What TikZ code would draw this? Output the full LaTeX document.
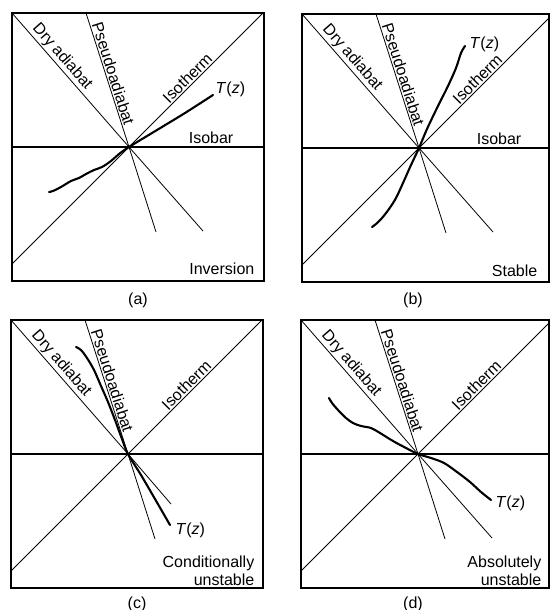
\documentclass[tikz,border=0pt]{standalone}
\usepackage{fontspec}
\setmainfont{Liberation Sans}
\newcommand\meteopanel[3]{%
  % #1 = box width, (#2,#3) = lower end of the dry adiabat
  \coordinate (O) at (117,134);
  \coordinate (dtop) at (0,0);
  \coordinate (ptop) at (74,0);
  \coordinate (dend) at (#2,#3);
  \coordinate (pend) at (144,219);
  \coordinate (itop) at (251,0);
  \coordinate (ibot) at (0,251);
  \begin{scope}
    \clip (0,0) rectangle (#1,268);
    \draw[thinline] (ibot) -- ({#1},{251-#1});
  \end{scope}
  \draw[thinline] (dtop) -- (O) -- (dend);
  \draw[thinline] (ptop) -- (O) -- (pend);
  \draw[isobarline] (0,134) -- ({#1},134);
  \draw[boxline] (0,0) rectangle ({#1},268);
  \path (dtop) -- (O) node[pos=0.37, sloped, above, lbl] (ldry) {Dry adiabat};
  \path (ptop) -- (O) node[pos=0.47, sloped, above, lbl] (lpse) {Pseudoadiabat};
  \path (O) -- (itop) node[pos=0.475, sloped, above, lbl] (liso) {Isotherm};
}
\begin{document}
\begin{tikzpicture}[x=1pt,y=-1pt,
  boxline/.style={line width=1.1pt},
  thinline/.style={line width=0.8pt},
  isobarline/.style={line width=1.9pt},
  profile/.style={line width=2.1pt, line cap=round, line join=round},
  lbl/.style={font=\fontsize{16}{17.5}\selectfont, inner sep=1.5pt},
  tz/.style={lbl, anchor=west, inner sep=0.5pt}]
\fill[white] (0,0) rectangle (550,610);
\useasboundingbox (0,0) rectangle (550,610);

% ---------- (a) ----------
\begin{scope}[shift={(12,13)}]
  \meteopanel{252}{191}{218}
  \node[lbl, anchor=base east] (isoa) at (223,130.5) {Isobar};
  \node[lbl, anchor=base east] (inva) at (244,261) {Inversion};
  \begin{scope}[shift={(117,134)}]
    \draw[profile] plot[smooth, tension=0.55] coordinates {(-80,45) (-76,44) (-68,40) (-58,34) (-50,31) (-43,27) (-35,23) (-27,20) (-18,14) (-10,7) (0,0) (28,-17) (56,-34) (84,-52)};
    \node[tz] (tza) at (86,-58) {\textit{T}(\textit{z})};
  \end{scope}
\end{scope}
\node[lbl] (capa) at (138,300) {(a)};

% ---------- (b) ----------
\begin{scope}[shift={(302,14)}]
  \meteopanel{247}{191}{218}
  \node[lbl, anchor=base east] (isob) at (221,130.5) {Isobar};
  \node[lbl, anchor=base east] (stab) at (237,262) {Stable};
  \begin{scope}[shift={(117,134)}]
    \draw[profile] plot[smooth, tension=0.55] coordinates {(-47,79) (-43,76) (-37,70) (-30,61) (-23,50) (-16,35) (-8,17) (0,0) (8,-19) (19,-42) (29,-62) (37,-80) (42,-95) (46,-102)};
    \node[tz] (tzb) at (50,-104) {\textit{T}(\textit{z})};
  \end{scope}
\end{scope}
\node[lbl] (capb) at (413,300) {(b)};

% ---------- (c) ----------
\begin{scope}[shift={(11,320)}]
  \meteopanel{252}{160}{184}
  \node[lbl, anchor=south east, align=right] (condc) at (245,267) {Conditionally\\unstable};
  \begin{scope}[shift={(117,134)}]
    \draw[profile] plot[smooth, tension=0.55] coordinates {(-52,-107) (-47,-104) (-41,-96) (-34,-84) (-27,-68) (-20,-52) (-13,-34) (-6,-15) (0,0) (13,21) (27,45) (42,71)};
    \node[tz] (tzc) at (47,76) {\textit{T}(\textit{z})};
  \end{scope}
\end{scope}
\node[lbl] (capc) at (137,604) {(c)};

% ---------- (d) ----------
\begin{scope}[shift={(301,320)}]
  \meteopanel{248}{191}{218}
  \node[lbl, anchor=south east, align=right] (absd) at (242,267) {Absolutely\\unstable};
  \begin{scope}[shift={(117,134)}]
    \draw[profile] plot[smooth, tension=0.55] coordinates {(-89,-56) (-86,-51) (-80,-44) (-72,-36) (-65,-31) (-57,-28) (-47,-26) (-38,-21) (-25,-13) (-12,-6) (0,0) (13,4) (26,9) (39,18) (52,28) (63,38) (73,46)};
    \node[tz] (tzd) at (77,49) {\textit{T}(\textit{z})};
  \end{scope}
\end{scope}
\node[lbl] (capd) at (413,604) {(d)};
\end{tikzpicture}
\end{document}
